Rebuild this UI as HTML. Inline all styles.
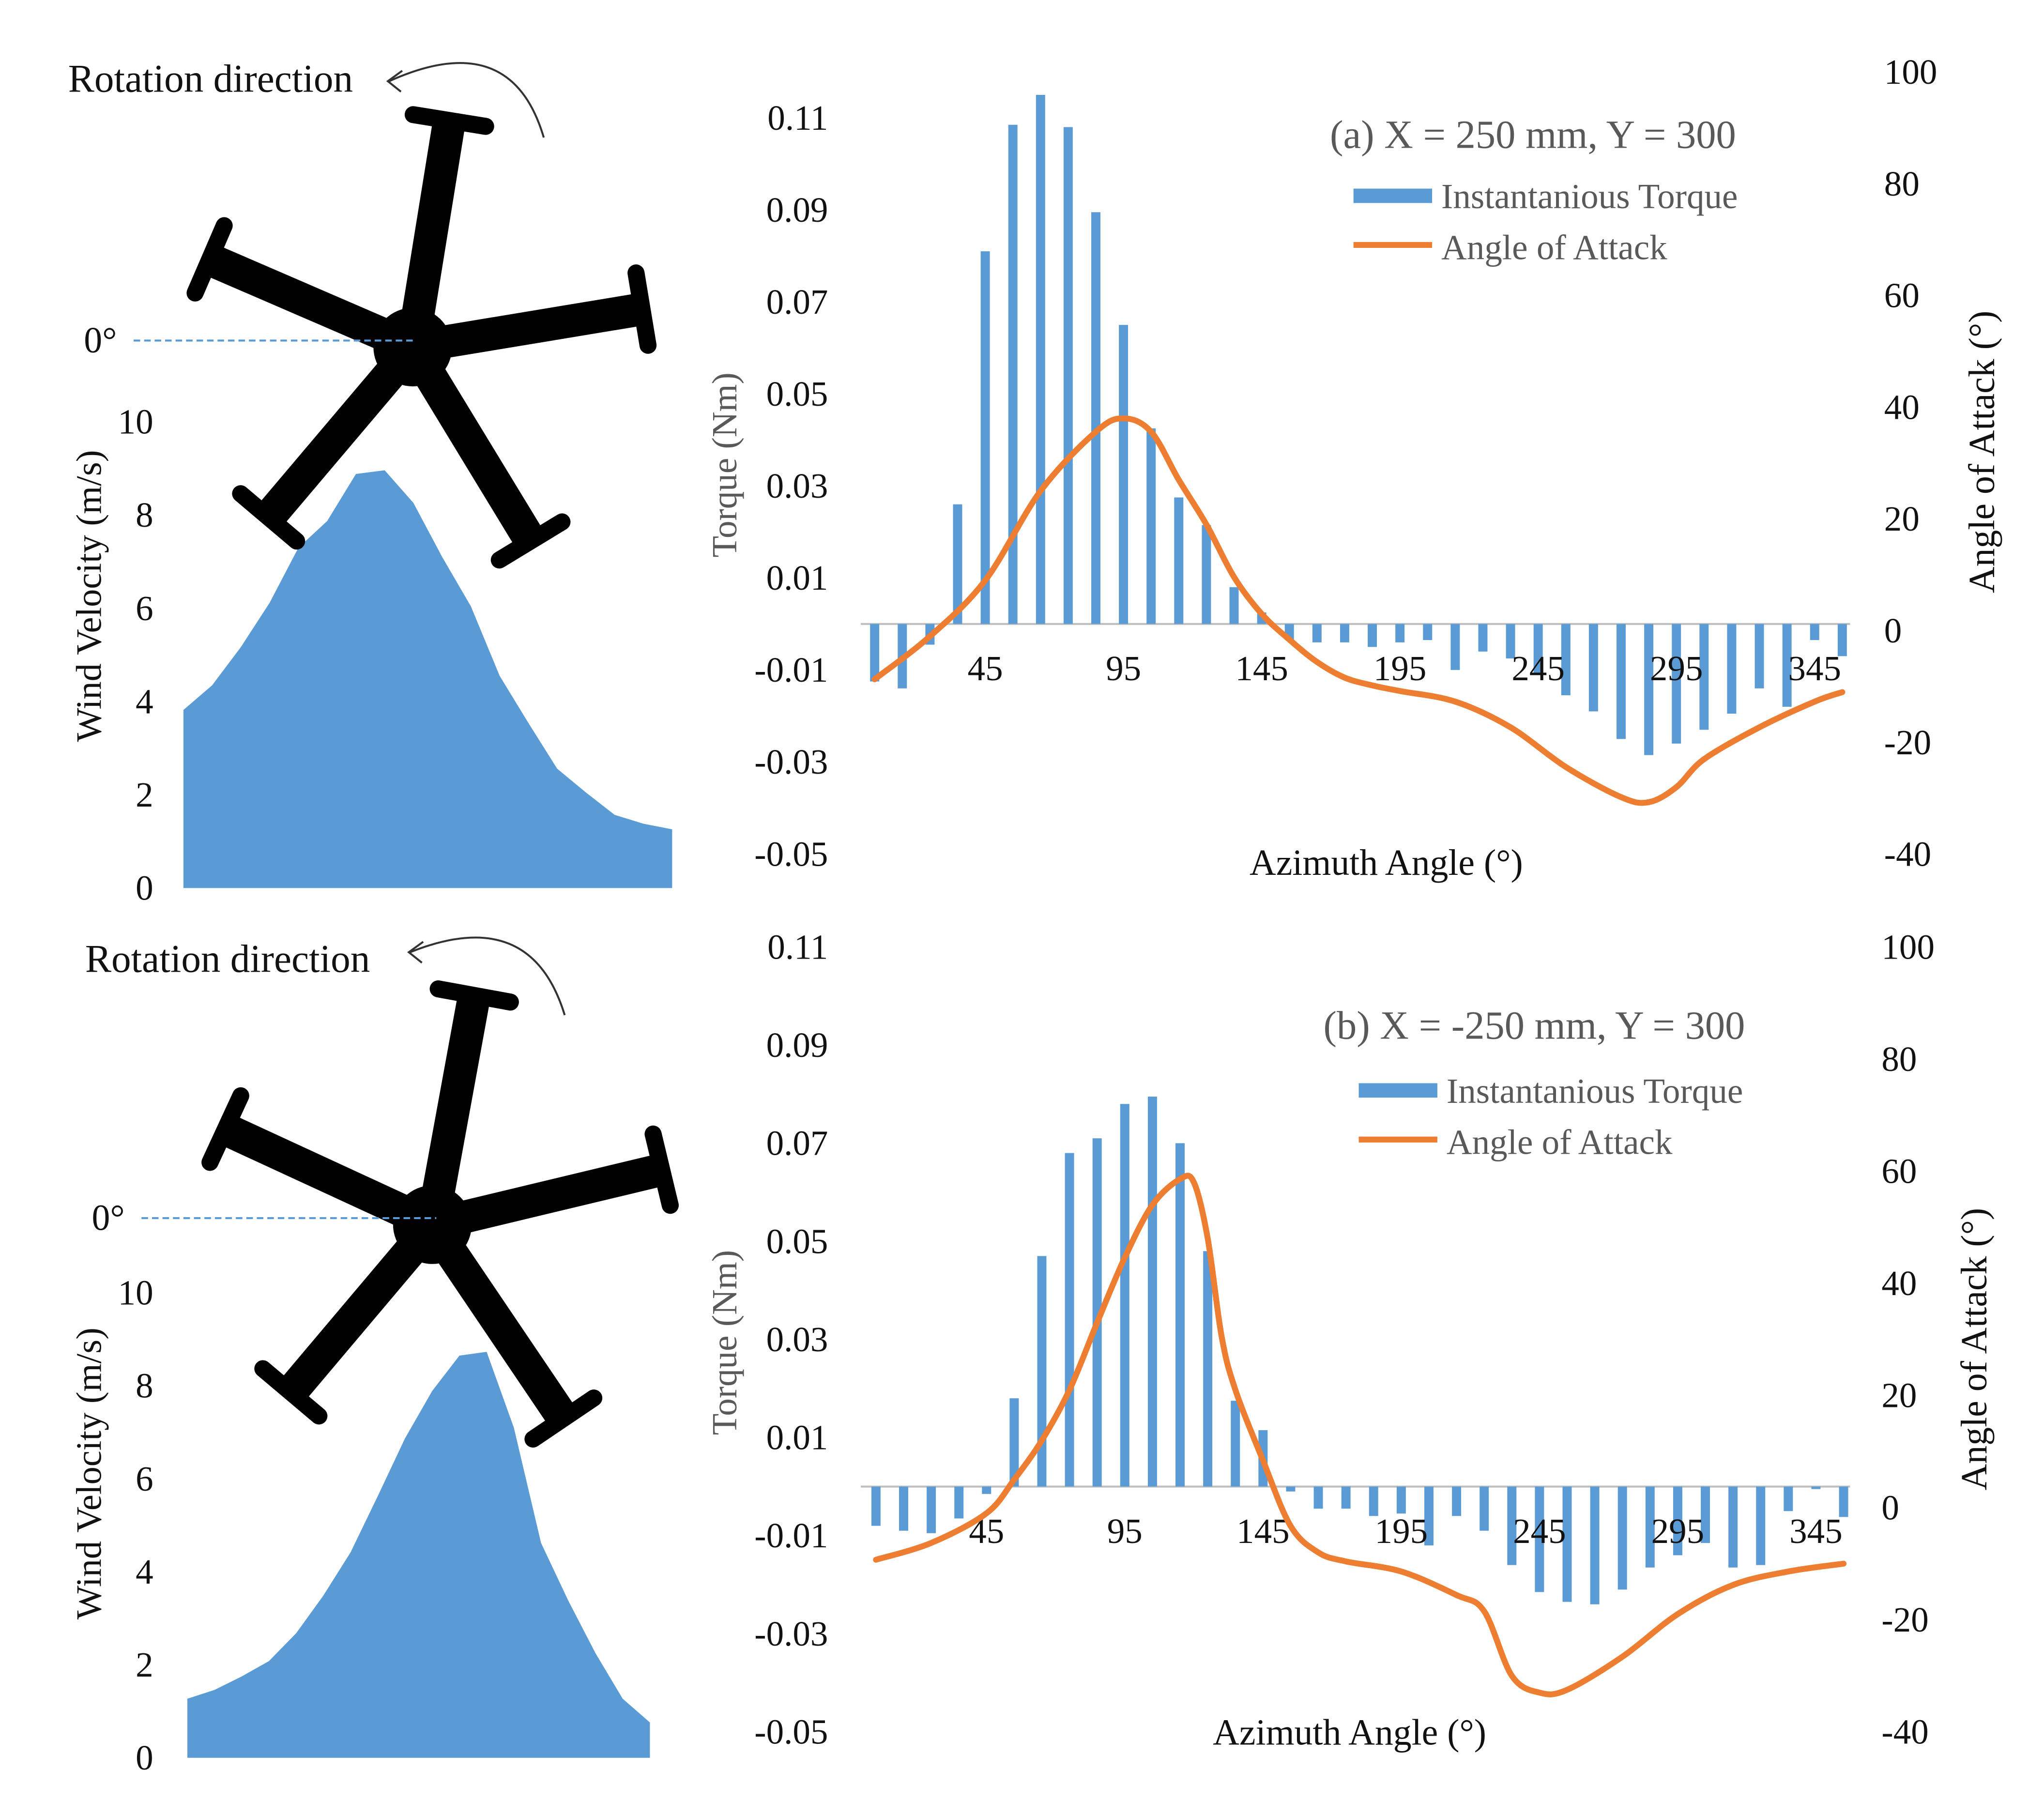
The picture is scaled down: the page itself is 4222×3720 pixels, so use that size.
<!DOCTYPE html>
<html><head><meta charset="utf-8"><style>
html,body{margin:0;padding:0;background:#fff}
svg{display:block}
text{font-family:"Liberation Serif",serif}
</style></head><body>
<svg id="s" xmlns="http://www.w3.org/2000/svg" width="4222" height="3720" viewBox="0 0 1560 1375" preserveAspectRatio="none">
<rect width="1560" height="1375" fill="#fff"/>
</svg>
<script>
// ---- data ----
const azimuth = [5,15,25,35,45,55,65,75,85,95,105,115,125,135,145,155,165,175,185,195,205,215,225,235,245,255,265,275,285,295,305,315,325,335,345,355];
const torqueA = [-0.0125,-0.014,-0.0045,0.026,0.081,0.1085,0.115,0.108,0.0895,0.065,0.0425,0.0275,0.0215,0.008,0.0025,-0.0035,-0.004,-0.004,-0.005,-0.004,-0.0035,-0.01,-0.006,-0.0075,-0.011,-0.0155,-0.019,-0.025,-0.0285,-0.026,-0.023,-0.0195,-0.014,-0.018,-0.0035,-0.007];
const torqueB = [-0.008,-0.009,-0.0095,-0.0065,-0.0015,0.018,0.047,0.068,0.071,0.078,0.0795,0.070,0.048,0.0175,0.0115,-0.001,-0.0045,-0.0045,-0.006,-0.0055,-0.012,-0.006,-0.009,-0.016,-0.0215,-0.0235,-0.024,-0.021,-0.0165,-0.014,-0.0115,-0.0165,-0.016,-0.005,-0.0005,-0.0062];
const aoaAngA = [5,25,45,65,85,95,105,115,125,135,145,155,165,175,185,195,215,235,255,275,285,295,305,325,345,355];
const aoaA = [-8.7,-1,9,25,35.6,38,35.6,27,19,9.6,3,-1.6,-5.6,-8.4,-9.8,-10.8,-12.7,-17.3,-24.4,-29.8,-30.7,-28,-23,-17.3,-12.7,-11];
const aoaAngB = [5,25,45,55,65,75,85,95,105,115,120,125,130,135,145,155,165,175,195,215,225,235,245,255,275,295,315,335,355];
const aoaB = [-9.3,-6.3,-1,5,12,21,33,44.6,54,58.6,58,48,30.6,21,8.4,-3.3,-8,-9.6,-11.4,-15.6,-18.5,-30,-33,-32.5,-26.6,-19,-13.8,-11.4,-10];
const torqueTicks = ["0.11","0.09","0.07","0.05","0.03","0.01","-0.01","-0.03","-0.05"];
const aoaTicks = ["100","80","60","40","20","0","-20","-40"];
const xTicks = [45,95,145,195,245,295,345];
const windA = [3.82,4.35,5.17,6.12,7.3,7.87,8.88,8.96,8.26,7.1,6.04,4.55,3.54,2.56,2.05,1.57,1.38,1.26];
const windB = [1.27,1.46,1.75,2.08,2.68,3.49,4.42,5.63,6.87,7.89,8.65,8.73,7.1,4.62,3.38,2.25,1.27,0.76];
const windTicks = ["0","2","4","6","8","10"];

const S = document.getElementById('s'), NS = 'http://www.w3.org/2000/svg';
function mk(tag, attrs, parent, txt){const e=document.createElementNS(NS,tag);for(const k in attrs)e.setAttribute(k,attrs[k]);if(txt!==undefined)e.textContent=txt;(parent||S).appendChild(e);return e;}
function smooth(pts){let d='M'+pts[0][0]+','+pts[0][1];for(let i=0;i<pts.length-1;i++){const p0=pts[i-1]||pts[i],p1=pts[i],p2=pts[i+1],p3=pts[i+2]||p2;const c1=[p1[0]+(p2[0]-p0[0])/6,p1[1]+(p2[1]-p0[1])/6],c2=[p2[0]-(p3[0]-p1[0])/6,p2[1]-(p3[1]-p1[1])/6];d+=' C'+c1.join(',')+' '+c2.join(',')+' '+p2.join(',');}return d;}

function chart(cfg){
  const g=mk('g',{});
  
  
  const x=a=>cfg.x0+a*2.11;
  const yT=v=>cfg.tTop+(0.11-v)/0.02*cfg.tStep;
  const yA=v=>cfg.aTop+(100-v)/20*cfg.aStep;
  torqueTicks.forEach((t,i)=>{const e=mk('text',{x:632,y:cfg.tTop+i*cfg.tStep+9,'text-anchor':'end','font-size':27,fill:'#111'},g,t);});
  aoaTicks.forEach((t,i)=>{const e=mk('text',{x:cfg.rx,y:cfg.aTop+i*cfg.aStep+9,'font-size':27,fill:'#111'},g,t);});
  const ax=mk('line',{x1:657,x2:1412,y1:yT(0),y2:yT(0),stroke:'#bfbfbf','stroke-width':1.5},g);
  
  azimuth.forEach((a,i)=>{const v=cfg.torque[i],y0=yT(0),y1=yT(v);const r=mk('rect',{x:x(a)-3.5,y:Math.min(y0,y1),width:7,height:Math.abs(y1-y0),fill:'#5b9bd5'},g);});
  xTicks.forEach(t=>{const e=mk('text',{x:x(t),y:yT(0)+43,'text-anchor':'middle','font-size':27,fill:'#111'},g,String(t));});
  const pts=cfg.aoaAng.map((a,i)=>[x(a),yA(cfg.aoa[i])]);
  const p=mk('path',{d:smooth(pts),fill:'none',stroke:'#ed7d31','stroke-width':4.5,'stroke-linecap':'round'},g);
  
  const tt=mk('text',{x:cfg.tx,y:cfg.ty,'font-size':30.5,fill:'#595959'},g,cfg.title);
  const lr=mk('rect',{x:cfg.lx,y:cfg.ly,width:60,height:11,fill:'#5b9bd5'},g);
  const l1=mk('text',{x:cfg.lx+67,y:cfg.ly+15,'font-size':27,fill:'#595959'},g,'Instantanious Torque');
  const ll=mk('line',{x1:cfg.lx,x2:cfg.lx+60,y1:cfg.ly+43,y2:cfg.ly+43,stroke:'#ed7d31','stroke-width':4.5},g);
  const l2=mk('text',{x:cfg.lx+67,y:cfg.ly+54,'font-size':27,fill:'#595959'},g,'Angle of Attack');
  const yl=mk('text',{x:0,y:0,'font-size':27,fill:'#595959','text-anchor':'middle',transform:`translate(${cfg.ylx},${cfg.yly}) rotate(-90)`},g,'Torque (Nm)');
  const yr=mk('text',{x:0,y:0,'font-size':28,fill:'#111','text-anchor':'middle',transform:`translate(${cfg.yrx},${cfg.yry}) rotate(-90)`},g,'Angle of Attack (°)');
  const xl=mk('text',{x:cfg.xlx,y:cfg.xly,'font-size':28,fill:'#111','text-anchor':'middle'},g,'Azimuth Angle (°)');
}
chart({name:'torque-chart-a',x0:657,tTop:90,tStep:70.25,aTop:55,aStep:85.3,rx:1438,torque:torqueA,aoaAng:aoaAngA,aoa:aoaA,title:'(a) X = 250 mm, Y = 300',tx:1015,ty:113,lx:1033,ly:144,ylx:562,yly:355,yrx:1522,yry:345,xlx:1058,xly:668});
chart({name:'torque-chart-b',x0:658,tTop:723,tStep:74.9,aTop:723,aStep:85.6,rx:1436,torque:torqueB,aoaAng:aoaAngB,aoa:aoaB,title:'(b) X = -250 mm, Y = 300',tx:1010,ty:793,lx:1037,ly:827,ylx:562,yly:1025,yrx:1516,yry:1030,xlx:1030,xly:1332});

function wind(cfg){
  const g=mk('g',{});
  
  
  const n=cfg.vals.length,step=(cfg.x1-cfg.x0)/(n-1),y=v=>cfg.y0-v*cfg.u;
  let d='M'+cfg.x0+','+cfg.y0;cfg.vals.forEach((v,i)=>d+=' L'+(cfg.x0+i*step)+','+y(v));d+=' L'+cfg.x1+','+cfg.y0+'Z';
  const a=mk('path',{d,fill:'#5b9bd5'},g);
  windTicks.forEach((t,i)=>{const e=mk('text',{x:117,y:cfg.y0-i*2*cfg.u+9,'text-anchor':'end','font-size':27,fill:'#111'},g,t);});
  const yl=mk('text',{x:0,y:0,'font-size':27.5,fill:'#111','text-anchor':'middle',transform:`translate(77,${cfg.ly}) rotate(-90)`},g,'Wind Velocity (m/s)');
}
wind({name:'wind-chart-a',vals:windA,x0:140,x1:513,y0:678,u:35.6,ly:455});
wind({name:'wind-chart-b',vals:windB,x0:143,x1:496,y0:1342,u:35.5,ly:1125});

function rotor(cfg){
  const g=mk('g',{});
  
  
  const [hx,hy]=cfg.hub;
  cfg.ends.forEach(([ex,ey])=>{
    mk('line',{x1:hx,y1:hy,x2:ex,y2:ey,stroke:'#000','stroke-width':25},g);
    const dx=ex-hx,dy=ey-hy,L=Math.hypot(dx,dy),px=-dy/L*28,py=dx/L*28;
    mk('line',{x1:ex+px,y1:ey+py,x2:ex-px,y2:ey-py,stroke:'#000','stroke-width':13,'stroke-linecap':'round'},g);
  });
  mk('circle',{cx:hx,cy:hy,r:30,fill:'#000'},g);
  const dl=mk('line',{x1:cfg.dash[0],y1:hy-5,x2:hx+3,y2:hy-5,stroke:'#5b9bd5','stroke-width':1.5,'stroke-dasharray':'5,3'},g);
  const z=mk('text',{x:cfg.dash[0]-38,y:hy+4,'font-size':28,fill:'#111'},g,'0°');
  const ar=mk('path',{d:cfg.arc,fill:'none',stroke:'#333','stroke-width':1.5},g);
  const [ax,ay]=cfg.tip;
  const hd=mk('path',{d:`M${ax+11},${ay-8} L${ax},${ay} L${ax+10},${ay+8}`,fill:'none',stroke:'#333','stroke-width':1.5},g);
  const rt=mk('text',{x:cfg.rt[0],y:cfg.rt[1],'font-size':30,fill:'#111'},g,'Rotation direction');
}
rotor({name:'rotor-a',hub:[315,265],ends:[[343,92],[160,198],[490,236],[205,395],[405,413]],dash:[102],arc:'M415,105 Q390,20 297,62',tip:[296,62],rt:[52,70]});
rotor({name:'rotor-b',hub:[330,935],ends:[[362,760],[172,862],[505,893],[222,1063],[430,1083]],dash:[108],arc:'M431,775 Q405,690 313,727',tip:[312,727],rt:[65,742]});
</script>
</body></html>
